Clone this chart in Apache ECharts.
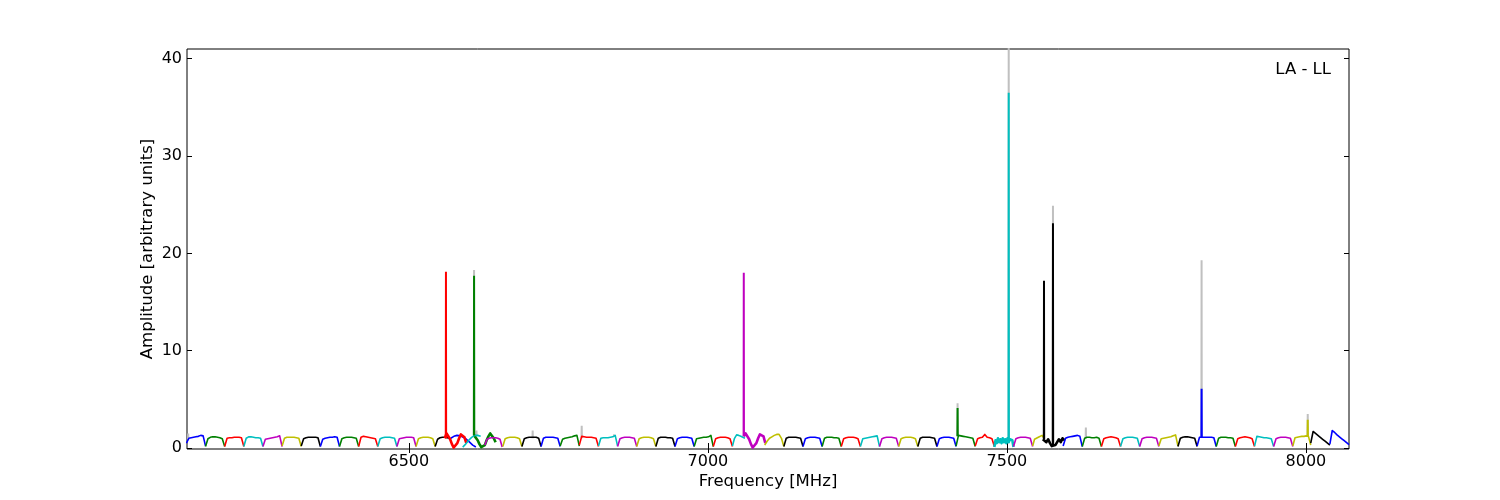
<!DOCTYPE html>
<html><head><meta charset="utf-8">
<script src="https://cdn.jsdelivr.net/npm/echarts@6/dist/echarts.min.js"></script>
<style>html,body{margin:0;padding:0;background:#fff}#c{width:1500px;height:500px}</style>
</head><body><div id="c"></div>
<script>
// ---- data ----
const xTicks = [6500, 7000, 7500, 8000];
const yTicks = [0, 10, 20, 30, 40];

// spectral windows: start / end frequency [MHz], colour code, amplitudes at evenly spaced channels
const winStart = [6128,6160,6192,6224,6256,6288,6320,6352,6384,6416,6448,6480,6512,6544,
  6570,6609,6560,6590,6627,
  6657,6689,6721,6753,6785,6817,6849,6881,6913,6945,6977,7009,7041,7060,
  7095,7127,7159,7191,7223,7255,7287,7319,7351,7383,7415,7447,7479,7511,7543,7560,
  7594,7626,7658,7690,7722,7754,7786,7818,7850,7882,7914,7946,7978,8008,8040];
const winEnd = [6160,6192,6224,6256,6288,6320,6352,6384,6416,6448,6480,6512,6544,6568,
  6612,6645,6596,6620,6656,
  6689,6721,6753,6785,6817,6849,6881,6913,6945,6977,7009,7041,7062,7096,
  7127,7159,7191,7223,7255,7287,7319,7351,7383,7415,7447,7479,7511,7543,7562,7596,
  7626,7658,7690,7722,7754,7786,7818,7850,7882,7914,7946,7978,8008,8040,8072];
const winColor = ['b','g','r','c','m','y','k','b','g','r','c','m','y','k',
  'b','g','r','c','m',
  'y','k','b','g','r','c','m','y','k','b','g','r','c','m',
  'y','k','b','g','r','c','m','y','k','b','g','r','c','m','y','k',
  'b','g','r','c','m','y','k','b','g','r','c','m','y','k','b'];
const winValues = [
  [0.5,1.0,1.05,1.1,1.15,1.2,1.3,1.25,0.2],
  [0.15,0.95,1.1,1.15,1.15,1.1,1.05,0.95,0.15],
  [0.15,1.0,1.05,1.05,1.1,1.1,1.1,1.05,0.15],
  [0.15,1.0,1.15,1.15,1.1,1.05,1.05,1.0,0.15],
  [0.15,0.9,0.95,1.0,1.05,1.1,1.15,1.25,0.15],
  [0.2,1.0,1.1,1.1,1.1,1.1,1.05,1.0,0.15],
  [0.2,0.95,1.05,1.1,1.1,1.1,1.1,1.05,0.15],
  [0.15,0.9,1.0,1.05,1.1,1.1,1.15,1.1,0.15],
  [0.15,0.95,1.05,1.1,1.1,1.1,1.05,1.0,0.15],
  [0.15,1.1,1.2,1.15,1.1,1.05,1.0,0.95,0.15],
  [0.15,0.95,1.05,1.1,1.1,1.1,1.05,1.0,0.15],
  [0.15,0.95,1.0,1.05,1.1,1.1,1.1,1.05,0.15],
  [0.15,0.95,1.05,1.1,1.1,1.1,1.05,0.95,0.15],
  [0.15,0.9,1.05,1.1,1.1,1.05,1.0],
  [1.0,1.2,1.3,1.25,1.1,0.9,0.6,0.3,0.1],
  [1.3,1.1,0.8,0.4,0.1,0.05,0.3,0.8,1.2,1.5,1.4,1.0,0.6],
  [1.0,1.5,1.3,0.9,0.4,0.05,0.1,0.5,1.0,1.4,1.5,1.1,0.5],
  [0.1,0.4,0.8,1.1,1.3,1.3,1.2],
  [0.3,0.9,1.0,1.05,1.05,1.05,1.0,0.9,0.1],
  [0.15,0.95,1.05,1.1,1.1,1.1,1.05,0.95,0.15],
  [0.15,0.95,1.05,1.1,1.1,1.1,1.1,1.0,0.15],
  [0.15,1.0,1.1,1.1,1.1,1.1,1.05,1.0,0.15],
  [0.2,0.9,1.0,1.05,1.1,1.15,1.25,1.3,0.2],
  [0.3,1.2,1.15,1.1,1.1,1.1,1.05,1.0,0.15],
  [0.2,1.0,1.05,1.05,1.05,1.1,1.15,1.3,0.2],
  [0.15,0.95,1.05,1.1,1.1,1.1,1.05,1.0,0.15],
  [0.15,0.95,1.05,1.1,1.1,1.1,1.05,0.95,0.15],
  [0.15,1.0,1.1,1.1,1.1,1.05,1.05,1.0,0.15],
  [0.15,0.95,1.05,1.1,1.1,1.1,1.05,1.0,0.15],
  [0.15,0.95,1.0,1.05,1.1,1.1,1.15,1.3,0.15],
  [0.15,0.95,1.05,1.1,1.1,1.1,1.05,0.95,0.15],
  [0.2,1.0,1.35,1.3,1.2,1.1,1.0],
  [1.2,1.5,1.3,0.9,0.4,0.05,0.1,0.5,1.0,1.4,1.5,1.2,0.5],
  [0.3,0.7,1.0,1.15,1.3,1.4,1.4,1.0,0.15],
  [0.15,1.0,1.1,1.1,1.1,1.1,1.05,1.0,0.15],
  [0.15,0.95,1.05,1.1,1.1,1.1,1.05,1.0,0.15],
  [0.15,1.0,1.1,1.1,1.1,1.05,1.05,1.0,0.15],
  [0.15,0.95,1.05,1.1,1.1,1.1,1.05,0.95,0.15],
  [0.15,0.95,1.0,1.05,1.1,1.15,1.2,1.25,0.15],
  [0.15,0.95,1.05,1.1,1.1,1.1,1.05,1.0,0.15],
  [0.15,0.95,1.05,1.1,1.1,1.1,1.05,0.95,0.15],
  [0.15,1.0,1.1,1.1,1.1,1.1,1.05,1.0,0.15],
  [0.15,0.95,1.05,1.1,1.1,1.1,1.05,1.0,0.15],
  [0.2,1.3,1.25,1.2,1.15,1.1,1.05,1.0,0.15],
  [0.2,0.95,1.05,1.1,1.4,1.1,1.05,0.95,0.15],
  [0.1,0.8,0.5,1.0,0.6,0.9,0.5,1.0,0.6,0.9,0.5,1.0,0.6,0.9,0.7,0.8,0.1],
  [0.15,0.95,1.05,1.1,1.1,1.1,1.05,1.0,0.15],
  [0.2,0.9,1.0,1.1,1.2,1.3,1.0],
  [0.9,1.0,0.6,0.9,0.5,0.2,0.05,0.3,0.6,0.9,0.6,1.0,0.8],
  [0.2,1.0,1.1,1.15,1.2,1.25,1.3,1.2,0.15],
  [0.15,1.0,1.1,1.1,1.05,1.05,1.1,1.0,0.15],
  [0.15,0.95,1.05,1.1,1.15,1.1,1.05,0.95,0.15],
  [0.15,0.95,1.05,1.1,1.1,1.1,1.05,1.0,0.15],
  [0.15,0.95,1.05,1.1,1.1,1.1,1.05,1.0,0.15],
  [0.2,0.95,1.0,1.05,1.1,1.15,1.25,1.35,0.2],
  [0.15,1.0,1.1,1.15,1.15,1.1,1.05,1.0,0.15],
  [0.2,1.1,1.1,1.1,1.1,1.1,1.1,1.05,0.15],
  [0.15,1.0,1.1,1.1,1.1,1.05,1.05,1.0,0.15],
  [0.15,0.95,1.05,1.1,1.15,1.1,1.05,0.95,0.15],
  [0.2,1.2,1.15,1.1,1.05,1.05,1.0,0.95,0.15],
  [0.15,0.95,1.05,1.1,1.1,1.1,1.05,1.0,0.15],
  [0.2,1.05,1.1,1.15,1.2,1.2,1.25,1.2,0.3],
  [0.5,1.7,1.5,1.3,1.1,0.9,0.7,0.5,0.3],
  [0.4,1.8,1.6,1.35,1.15,0.95,0.75,0.55,0.35]
];

// narrow RFI spikes in the plotted (coloured) data
const spikeFreq  = [6562, 6609, 7060, 7417.5, 7503, 7562, 7577, 7825.5, 8003];
const spikeBase  = [1.0, 1.3, 1.2, 1.2, 0.8, 0.9, 0.3, 1.1, 1.2];
const spikePeak  = [18.1, 17.7, 18.0, 4.1, 36.5, 17.2, 23.1, 6.1, 2.9];
const spikeColor = ['r','g','m','g','c','k','k','b','y'];

// spikes of the unflagged (grey) data
const greyFreq = [6131, 6609, 6613, 6707, 6789, 6843, 7417.5, 7503, 7577, 7632, 7825.5, 8003];
const greyBase = [0.9, 1.2, 1.2, 1.0, 1.0, 1.2, 1.2, 0.8, 0.6, 1.0, 1.1, 1.2];
const greyPeak = [1.5, 18.3, 1.8, 1.8, 2.3, 1.4, 4.6, 44, 24.9, 2.1, 19.3, 3.5];

// ---- styles ----
const COLORS = {b:'#0000ff', g:'#008000', r:'#ff0000', c:'#00bfbf', m:'#bf00bf', y:'#bfbf00', k:'#000000'};
const GREY = '#c0c0c0';
const noisyWindows = [15, 16, 32, 45, 48];
const FONT = 'DejaVu Sans';

const series = [];
greyFreq.forEach((f, i) => {
  series.push({type:'line', data:[[f-0.3, greyBase[i]], [f, greyPeak[i]], [f+0.3, greyBase[i]]],
    showSymbol:false, silent:true, z:1, clip:true,
    lineStyle:{color:GREY, width:2}});
});
winStart.forEach((s, w) => {
  const vals = winValues[w];
  const n = vals.length;
  const step = (winEnd[w] - s) / (n - 1);
  const data = vals.map((v, i) => [s + i*step, v]);
  series.push({type:'line', data, showSymbol:false, silent:true, z:2, clip:true,
    lineStyle:{color:COLORS[winColor[w]], width: noisyWindows.includes(w) ? 2.6 : 1.6, join:'round'}});
});
spikeFreq.forEach((f, i) => {
  series.push({type:'line', data:[[f-0.3, spikeBase[i]], [f, spikePeak[i]], [f+0.3, spikeBase[i]]],
    showSymbol:false, silent:true, z:3, clip:true,
    lineStyle:{color:COLORS[spikeColor[i]], width:2}});
});

const tickStyle = {show:true, inside:true, length:5, lineStyle:{color:'#000', width:1}};
const labelStyle = {color:'#000', fontSize:16, fontFamily:FONT, formatter:(v) => String(v)};
const nameStyle = {color:'#000', fontSize:16.5, fontFamily:FONT};

const option = {
  animation:false,
  backgroundColor:'#fff',
  grid:{left:187, right:151, top:49, bottom:51, show:true, borderColor:'#000', borderWidth:1, backgroundColor:'transparent'},
  xAxis:[
    {type:'value', min:6129, max:8072, position:'bottom', splitLine:{show:false}, axisLine:{show:false},
     axisTick:{...tickStyle, customValues:xTicks},
     axisLabel:{...labelStyle, margin:5, customValues:xTicks},
     name:'Frequency [MHz]', nameLocation:'middle', nameGap:24, nameMoveOverlap:false, nameTextStyle:nameStyle},
    {type:'value', min:6129, max:8072, position:'top', splitLine:{show:false}, axisLine:{show:false},
     axisTick:{...tickStyle, customValues:xTicks}, axisLabel:{show:false}}
  ],
  yAxis:[
    {type:'value', min:-0.1, max:41, position:'left', splitLine:{show:false}, axisLine:{show:false},
     axisTick:{...tickStyle, customValues:yTicks},
     axisLabel:{...labelStyle, margin:5, customValues:yTicks, lineHeight:16, padding:[4,0,0,0]},
     name:'Amplitude [arbitrary units]', nameLocation:'middle', nameGap:31, nameMoveOverlap:false, nameRotate:90, nameTextStyle:nameStyle},
    {type:'value', min:-0.1, max:41, position:'right', splitLine:{show:false}, axisLine:{show:false},
     axisTick:{...tickStyle, customValues:yTicks}, axisLabel:{show:false}}
  ],
  graphic:[{type:'text', right:169, top:61, z:10,
    style:{text:'LA - LL', font:'16.5px "DejaVu Sans"', fill:'#000'}}],
  series
};
const chart = echarts.init(document.getElementById('c'));
chart.setOption(option);
</script></body></html>
